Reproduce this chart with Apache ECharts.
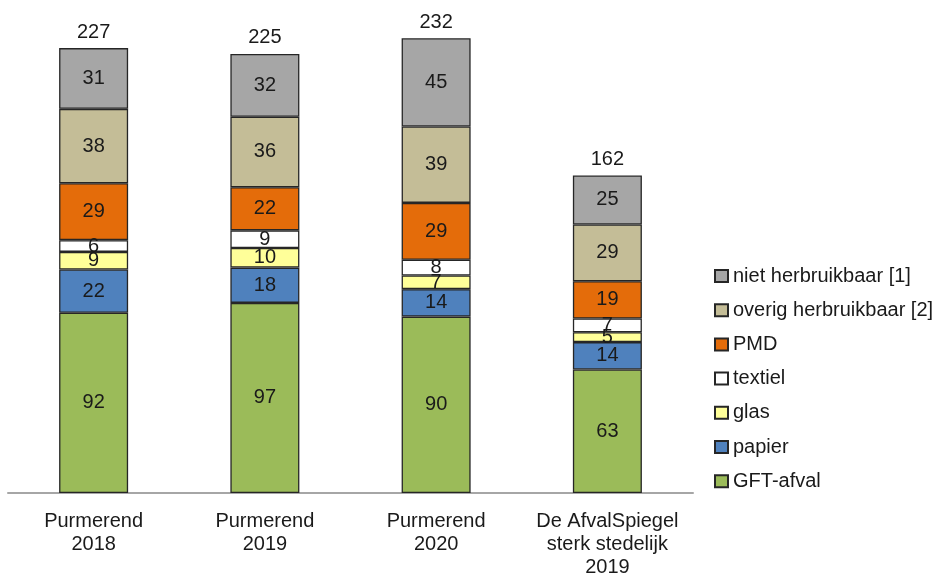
<!DOCTYPE html>
<html><head><meta charset="utf-8">
<script src="https://cdn.jsdelivr.net/npm/echarts@6/dist/echarts.min.js"></script>
<style>html,body{margin:0;padding:0;background:#fff}#c{width:938px;height:577px}</style>
</head><body><div id="c"></div>
<script>
const categories = ['Purmerend\n2018', 'Purmerend\n2019', 'Purmerend\n2020', 'De AfvalSpiegel\nsterk stedelijk\n2019'];
const gft = [92, 97, 90, 63];
const papier = [22, 18, 14, 14];
const glas = [9, 10, 7, 5];
const textiel = [6, 9, 8, 7];
const pmd = [29, 22, 29, 19];
const overig = [38, 36, 39, 29];
const niet = [31, 32, 45, 25];
const totals = [227, 225, 232, 162];

const seriesDefs = [
  ['GFT-afval', gft, '#9BBB59'],
  ['papier', papier, '#4F81BD'],
  ['glas', glas, '#FFFF99'],
  ['textiel', textiel, '#FFFFFF'],
  ['PMD', pmd, '#E46C0A'],
  ['overig herbruikbaar [2]', overig, '#C4BD97'],
  ['niet herbruikbaar [1]', niet, '#A6A6A6']
];
const font = 'Liberation Sans, Arial, sans-serif';
const series = seriesDefs.map(([name, data, color]) => ({
  name, type: 'bar', stack: 's', data, barWidth: 69,
  itemStyle: { color, borderColor: '#262626', borderWidth: 1.3 },
  label: { show: true, position: 'inside', color: '#1a1a1a', fontSize: 20, fontFamily: font },
  emphasis: { disabled: true }
}));
series.push({
  name: 'totaal', type: 'bar', stack: 's', data: totals.map(() => 0), barWidth: 69,
  itemStyle: { color: 'transparent', borderWidth: 0 },
  label: { show: true, position: 'top', distance: 6, color: '#1a1a1a', fontSize: 20, fontFamily: font,
    formatter: p => totals[p.dataIndex] },
  emphasis: { disabled: true }
});

const chart = echarts.init(document.getElementById('c'));
chart.setOption({
  animation: false,
  grid: { left: 8, right: 245, top: 3, bottom: 84, outerBoundsMode: 'none', containLabel: false },
  xAxis: {
    type: 'category', data: categories,
    axisLine: { lineStyle: { color: '#A6A6A6', width: 2 } },
    axisTick: { show: false },
    axisLabel: { interval: 0, color: '#1a1a1a', fontSize: 20, fontFamily: font, lineHeight: 23, margin: 17 }
  },
  yAxis: { type: 'value', min: 0, max: 250, show: false, splitLine: { show: false } },
  legend: {
    orient: 'vertical', left: 714, top: 266, padding: 0, itemWidth: 13, itemHeight: 12, itemGap: 14.2,
    icon: 'rect',
    data: seriesDefs.map(d => d[0]).reverse(),
    textStyle: { color: '#1a1a1a', fontSize: 20, lineHeight: 20, fontFamily: font }
  },
  series
});
</script></body></html>
